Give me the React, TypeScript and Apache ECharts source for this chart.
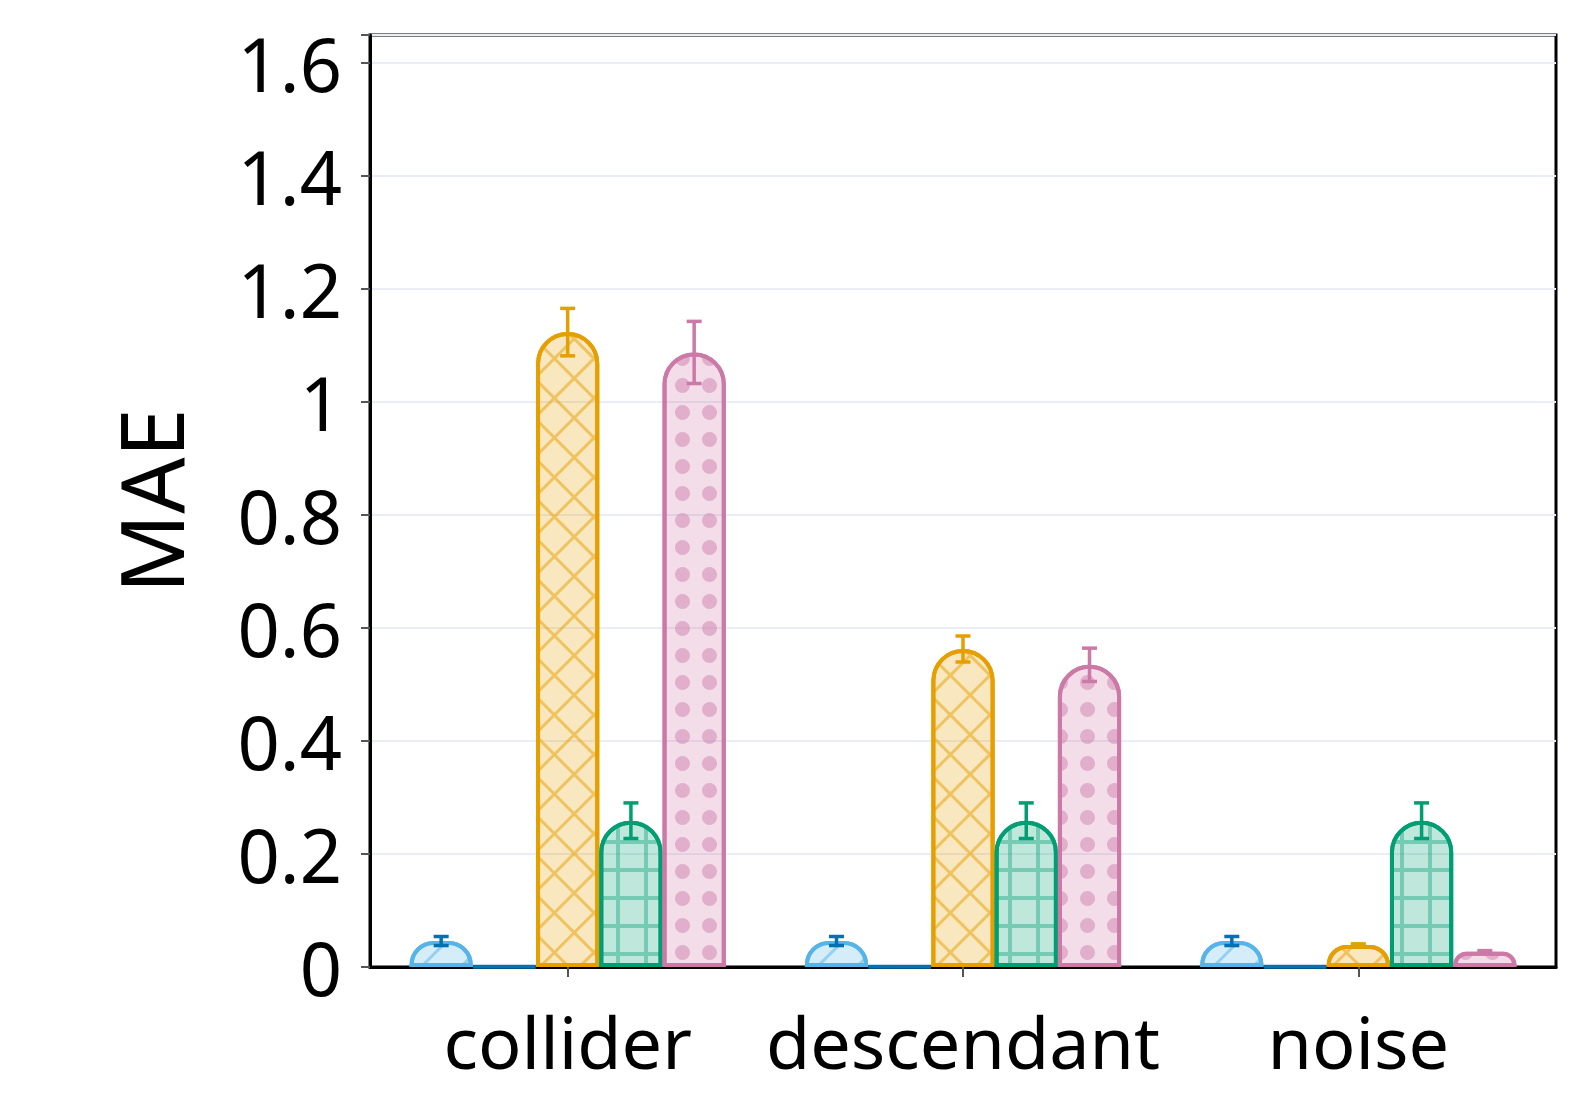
import React, { useEffect, useRef } from "react";
import * as echarts from "echarts";

const categories = ["collider", "descendant", "noise"];
const seriesNames = ["A", "B", "C", "D", "E"];
const seriesColors = ["#56B4E9", "#0072B2", "#E69F00", "#009E73", "#CC79A7"];
const errorColors = ["#0072B2", "#0072B2", "#E69F00", "#009E73", "#CC79A7"];
const valuesA = [0.046, 0.046, 0.046];
const valuesB = [0.001, 0.001, 0.001];
const valuesC = [1.124, 0.563, 0.039];
const valuesD = [0.259, 0.259, 0.259];
const valuesE = [1.088, 0.535, 0.027];
const errorsA = [0.008, 0.008, 0.008];
const errorsB = [0, 0, 0];
const errorsC = [0.042, 0.023, 0.002];
const errorsD = [0.0315, 0.0315, 0.0315];
const errorsE = [0.055, 0.0295, 0.002];
const yTicks = [0, 0.2, 0.4, 0.6, 0.8, 1, 1.2, 1.4, 1.6];

const allValues = [valuesA, valuesB, valuesC, valuesD, valuesE];
const allErrors = [errorsA, errorsB, errorsC, errorsD, errorsE];

function rgba(hex: string, a: number) {
  const r = parseInt(hex.slice(1, 3), 16);
  const g = parseInt(hex.slice(3, 5), 16);
  const b = parseInt(hex.slice(5, 7), 16);
  return `rgba(${r},${g},${b},${a})`;
}

const decals: any[] = [
  {
    symbol: "rect",
    color: rgba("#56B4E9", 0.5),
    dashArrayX: [28, 0],
    dashArrayY: [3, 25],
    rotation: -Math.PI / 4,
  },
  null,
  {
    symbol: "rect",
    color: rgba("#E69F00", 0.5),
    dashArrayX: [[28, 0], [3, 25]],
    dashArrayY: [3, 0, 25, 0],
    rotation: Math.PI / 4,
  },
  {
    symbol: "rect",
    color: rgba("#009E73", 0.38),
    dashArrayX: [[28, 0], [4, 24]],
    dashArrayY: [4, 0, 24, 0],
    rotation: 0,
  },
  {
    symbol: "circle",
    color: rgba("#CC79A7", 0.45),
    dashArrayX: [15, 12],
    dashArrayY: [15, 12],
    rotation: 0,
  },
];

export default function App() {
  const ref = useRef<HTMLDivElement>(null);
  useEffect(() => {
    if (!ref.current) return;
    document.body.style.margin = "0";
    document.body.style.overflow = "hidden";
    const chart = echarts.init(ref.current, undefined, { renderer: "svg" });
    const nSeries = seriesNames.length;
    const barSeries = seriesNames.map((name, i) => ({
      type: "bar",
      name,
      data: allValues[i],
      barGap: "0%",
      barCategoryGap: "20%",
      z: 2,
      itemStyle: {
        color: rgba(seriesColors[i], 0.25),
        borderColor: seriesColors[i],
        borderWidth: 4,
        borderRadius: [31, 31, 0, 0],
        decal: decals[i] || undefined,
      },
    }));
    const errSeries = seriesNames.map((name, i) => ({
      type: "custom",
      name: name + "_err",
      z: 5,
      encode: { x: 0, y: 1 },
      data: categories.map((c, j) => [j, allValues[i][j], allErrors[i][j]]),
      renderItem: (params: any, api: any) => {
        const e = api.value(2);
        if (!e) return null;
        const cat = api.value(0);
        const v = api.value(1);
        const band = api.size([1, 0])[0];
        const bw = (band * 0.8) / nSeries;
        const x = api.coord([cat, v])[0] + (i - (nSeries - 1) / 2) * bw;
        const yTop = api.coord([cat, v + e])[1];
        const yBot = api.coord([cat, v - e])[1];
        const hw = 7.5;
        const style = { stroke: errorColors[i], lineWidth: 3.5 };
        return {
          type: "group",
          children: [
            { type: "line", shape: { x1: x, y1: yTop, x2: x, y2: yBot }, style },
            { type: "line", shape: { x1: x - hw, y1: yTop, x2: x + hw, y2: yTop }, style },
            { type: "line", shape: { x1: x - hw, y1: yBot, x2: x + hw, y2: yBot }, style },
          ],
        };
      },
    }));
    chart.setOption({
      animation: false,
      backgroundColor: "#ffffff",
      textStyle: { fontFamily: "Noto Sans" },
      grid: {
        left: 370,
        right: 21,
        top: 35,
        bottom: 146,
        show: true,
        borderColor: "#000",
        borderWidth: 3,
        backgroundColor: "transparent",
      },
      xAxis: {
        type: "category",
        data: categories,
        axisLine: { show: true, lineStyle: { color: "#000", width: 3 } },
        axisTick: { show: true, alignWithLabel: true, length: 10, lineStyle: { color: "#555", width: 2 } },
        axisLabel: { color: "#000", fontSize: 72, margin: 38, interval: 0, fontFamily: "Noto Sans" },
        splitLine: { show: false },
      },
      yAxis: {
        type: "value",
        min: 0,
        max: 1.65,
        interval: 0.2,
        name: "MAE",
        nameLocation: "middle",
        nameGap: 176,
        nameTextStyle: { color: "#000", fontSize: 88, fontFamily: "Noto Sans" },
        axisLine: { show: true, lineStyle: { color: "#000", width: 3 } },
        axisTick: { show: true, length: 9, lineStyle: { color: "#555", width: 2 } },
        axisLabel: {
          color: "#000",
          fontSize: 74,
          margin: 28,
          fontFamily: "Noto Sans",
          formatter: (v: number) => {
            const hit = yTicks.find((t) => Math.abs(t - v) < 1e-6);
            return hit === undefined ? "" : String(hit);
          },
        },
        splitLine: { show: true, lineStyle: { color: "#eaedf7", width: 2 } },
      },
      series: [...barSeries, ...errSeries],
    });
    const onResize = () => chart.resize();
    window.addEventListener("resize", onResize);
    return () => {
      window.removeEventListener("resize", onResize);
      chart.dispose();
    };
  }, []);
  return <div ref={ref} style={{ width: "100vw", height: "100vh" }} />;
}
